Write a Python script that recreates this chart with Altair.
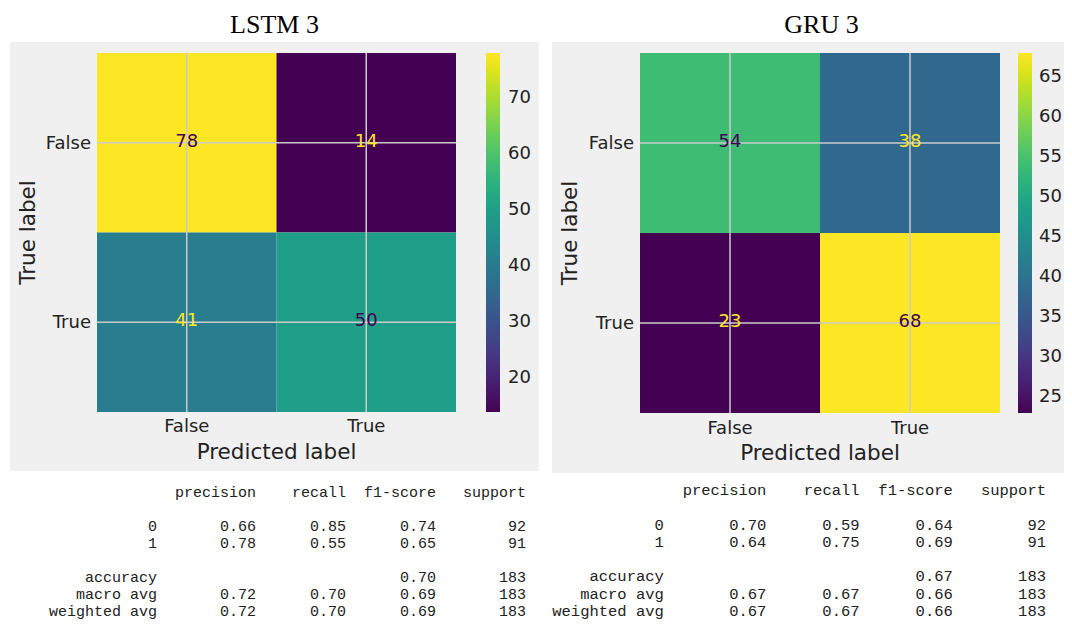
import altair as alt
import pandas as pd

# ---------------- data ----------------
class_names = ["False", "True"]
x_title = "Predicted label"
y_title = "True label"

lstm_title = "LSTM 3"
lstm_matrix = [[78, 14],
               [41, 50]]
lstm_ticks = [20, 30, 40, 50, 60, 70]

gru_title = "GRU 3"
gru_matrix = [[54, 38],
              [23, 68]]
gru_ticks = [25, 30, 35, 40, 45, 50, 55, 60, 65]

report_labels = ["0", "1", "accuracy", "macro avg", "weighted avg"]
report_headers = ["precision", "recall", "f1-score", "support"]

lstm_precision = [0.66, 0.78, None, 0.72, 0.72]
lstm_recall = [0.85, 0.55, None, 0.70, 0.70]
lstm_f1 = [0.74, 0.65, 0.70, 0.69, 0.69]
lstm_support = [92, 91, 183, 183, 183]

gru_precision = [0.70, 0.64, None, 0.67, 0.67]
gru_recall = [0.59, 0.75, None, 0.67, 0.67]
gru_f1 = [0.64, 0.69, 0.67, 0.66, 0.66]
gru_support = [92, 91, 183, 183, 183]

# ---------------- style ----------------
VIR_LO = "#440154"
VIR_HI = "#fde725"
GRAY = "#f0f0f0"
GRID = "#cbcbcb"
INK = "#222222"
SANS = "DejaVu Sans"


def heatmap(matrix, title, ticks, W, H, left, top, size, legend_x, label_offset,
            title_dx, xlab_dy, ytitle_dy):
    vals = [v for row in matrix for v in row]
    vmin, vmax = min(vals), max(vals)
    thresh = (vmin + vmax) / 2.0
    n = len(class_names)
    lo, hi, mid = -0.5, n - 0.5, (n - 1) / 2.0
    cells = pd.DataFrame([
        {"true": i, "pred": j, "count": matrix[i][j],
         "ink": VIR_HI if matrix[i][j] < thresh else VIR_LO}
        for i in range(n) for j in range(n)
    ])
    names = pd.DataFrame({"idx": list(range(n)), "name": class_names})
    titles = pd.DataFrame({"xt": [x_title], "yt": [y_title]})

    xs = alt.Scale(domain=[lo, hi], range=[left, left + size], nice=False, zero=False)
    ys = alt.Scale(domain=[lo, hi], range=[top, top + size], nice=False, zero=False)

    legend = alt.Legend(orient="none", legendX=legend_x, legendY=top,
                        direction="vertical", gradientLength=size,
                        gradientThickness=14, title=None, values=ticks,
                        labelFont=SANS, labelFontSize=18, labelColor=INK,
                        labelOffset=label_offset, gradientStrokeWidth=0,
                        labelOverlap=False)

    rect = alt.Chart(cells).transform_calculate(
        x0="datum.pred - 0.5", x1="datum.pred + 0.5",
        y0="datum.true - 0.5", y1="datum.true + 0.5",
    ).mark_rect(strokeWidth=0).encode(
        x=alt.X("x0:Q", scale=xs, axis=None),
        x2="x1:Q",
        y=alt.Y("y0:Q", scale=ys, axis=None),
        y2="y1:Q",
        color=alt.Color("count:Q",
                        scale=alt.Scale(scheme="viridis", domain=[vmin, vmax]),
                        legend=legend),
    )
    vrules = alt.Chart(names).transform_calculate(
        lo=str(lo), hi=str(hi)
    ).mark_rule(color=GRID, strokeWidth=1.5).encode(
        x=alt.X("idx:Q", scale=xs, axis=None),
        y=alt.Y("lo:Q", scale=ys, axis=None),
        y2="hi:Q",
    )
    hrules = alt.Chart(names).transform_calculate(
        lo=str(lo), hi=str(hi)
    ).mark_rule(color=GRID, strokeWidth=1.5).encode(
        y=alt.Y("idx:Q", scale=ys, axis=None),
        x=alt.X("lo:Q", scale=xs, axis=None),
        x2="hi:Q",
    )
    text = alt.Chart(cells).mark_text(
        font=SANS, fontSize=18, baseline="middle", align="center", dy=-1
    ).encode(
        x=alt.X("pred:Q", scale=xs, axis=None),
        y=alt.Y("true:Q", scale=ys, axis=None),
        text="count:Q",
        fill=alt.Fill("ink:N", scale=None),
    )
    # tick labels along the bottom and left edges of the matrix
    xlabels = alt.Chart(names).transform_calculate(edge=str(hi)).mark_text(
        font=SANS, fontSize=18, color=INK, baseline="middle", align="center",
        dy=xlab_dy,
    ).encode(
        x=alt.X("idx:Q", scale=xs, axis=None),
        y=alt.Y("edge:Q", scale=ys, axis=None),
        text="name:N",
    )
    ylabels = alt.Chart(names).transform_calculate(edge=str(lo)).mark_text(
        font=SANS, fontSize=18, color=INK, baseline="middle", align="right",
        dx=-6, dy=1,
    ).encode(
        x=alt.X("edge:Q", scale=xs, axis=None),
        y=alt.Y("idx:Q", scale=ys, axis=None),
        text="name:N",
    )
    xtitle = alt.Chart(titles).transform_calculate(
        mid=str(mid), edge=str(hi)
    ).mark_text(
        font=SANS, fontSize=21.5, color=INK, baseline="middle", align="center",
        dy=40.5,
    ).encode(
        x=alt.X("mid:Q", scale=xs, axis=None),
        y=alt.Y("edge:Q", scale=ys, axis=None),
        text="xt:N",
    )
    ytitle = alt.Chart(titles).transform_calculate(
        mid=str(mid), edge=str(lo)
    ).mark_text(
        font=SANS, fontSize=21.5, color=INK, baseline="middle", align="center",
        angle=270, dy=ytitle_dy,
    ).encode(
        x=alt.X("edge:Q", scale=xs, axis=None),
        y=alt.Y("mid:Q", scale=ys, axis=None),
        text="yt:N",
    )
    return alt.layer(rect, vrules, hrules, text, xlabels, ylabels, xtitle, ytitle).properties(
        width=W, height=H,
        title=alt.Title(title, font="Liberation Serif", fontSize=26,
                        fontWeight="normal", color="black", anchor="middle",
                        baseline="top", offset=4, dx=title_dx),
        view=alt.ViewBackground(fill=GRAY, strokeWidth=0),
    )


def report(prec, rec, f1, sup, W, H, x_range, y_range, font_size):
    label_w = max(len(s) for s in report_labels)
    col_end = [label_w + 1 + 10 * (k + 1) for k in range(len(report_headers))]
    n = len(class_names)
    rows = []
    for k, h in enumerate(report_headers):
        rows.append({"line": 0, "end": col_end[k], "text": h})
    for i, lab in enumerate(report_labels):
        line = 2 + i if i < n else 3 + i
        rows.append({"line": line, "end": label_w, "text": lab})
        for k, v in enumerate([prec[i], rec[i], f1[i]]):
            if v is not None:
                rows.append({"line": line, "end": col_end[k], "text": f"{v:.2f}"})
        rows.append({"line": line, "end": col_end[-1], "text": str(sup[i])})
    df = pd.DataFrame(rows)
    return alt.Chart(df).mark_text(
        align="right", baseline="middle", font="Liberation Mono",
        fontSize=font_size, color=INK,
    ).encode(
        x=alt.X("end:Q", scale=alt.Scale(domain=[0, col_end[-1]], range=x_range,
                                         nice=False, zero=False), axis=None),
        y=alt.Y("line:Q", scale=alt.Scale(domain=[0, 7], range=y_range,
                                          nice=False, zero=False), axis=None),
        text="text:N",
    ).properties(width=W, height=H)


left_panel = alt.vconcat(
    heatmap(lstm_matrix, lstm_title, lstm_ticks, W=529, H=429, left=87, top=11,
            size=359, legend_x=476, label_offset=8, title_dx=0, xlab_dy=15.3,
            ytitle_dy=-68.2),
    report(lstm_precision, lstm_recall, lstm_f1, lstm_support, W=529, H=172,
           x_range=[39, 516], y_range=[21, 140], font_size=15),
    spacing=0,
)
right_panel = alt.vconcat(
    heatmap(gru_matrix, gru_title, gru_ticks, W=531, H=431, left=88, top=11,
            size=360, legend_x=466, label_offset=7, title_dx=4, xlab_dy=16,
            ytitle_dy=-69.2),
    report(gru_precision, gru_recall, gru_f1, gru_support, W=531, H=170,
           x_range=[0, 494], y_range=[17, 138], font_size=15.5),
    spacing=0,
)

chart = alt.hconcat(left_panel, right_panel, spacing=13).resolve_scale(
    color="independent"
).properties(
    padding={"left": 2, "top": 4, "right": -19, "bottom": -21},
    background="white",
).configure_view(strokeWidth=0)

chart.save("out.html", embed_options={"renderer": "svg", "actions": False})
